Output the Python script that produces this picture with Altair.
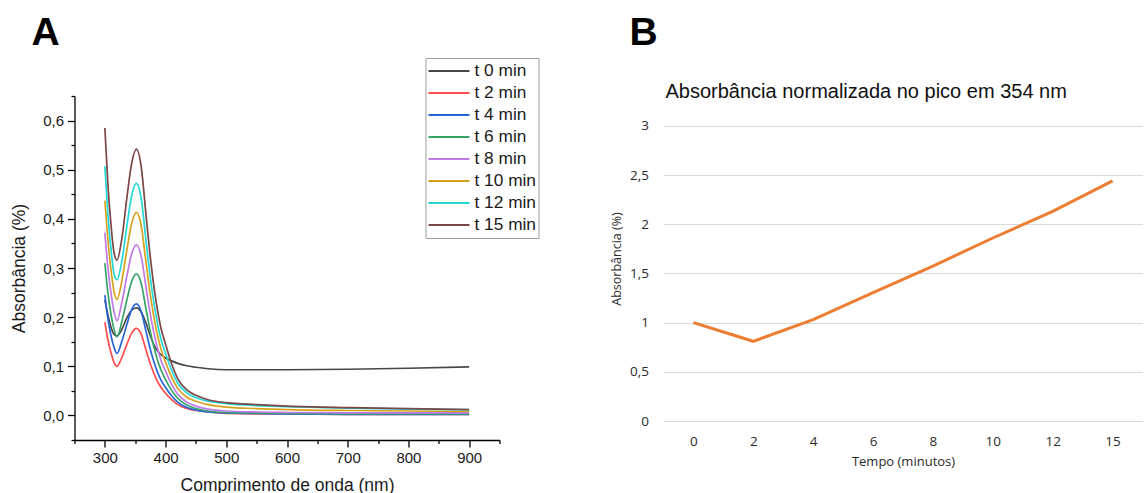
import altair as alt
import pandas as pd

# ---------------- Panel A data (UV-Vis spectra) ----------------
wavelength = [300, 305, 310, 315, 320, 328, 336, 344, 352, 360, 368, 376, 384, 392,
              400, 410, 420, 435, 450, 470, 500, 550, 600, 700, 800, 900]

t0 = [0.235, 0.205, 0.180, 0.165, 0.162, 0.175, 0.198, 0.214, 0.219, 0.210, 0.187, 0.158, 0.136, 0.124,
      0.117, 0.111, 0.106, 0.101, 0.098, 0.095, 0.093, 0.093, 0.093, 0.094, 0.096, 0.099]
t2 = [0.190, 0.154, 0.128, 0.108, 0.100, 0.118, 0.144, 0.167, 0.177, 0.165, 0.132, 0.101, 0.076, 0.058,
      0.045, 0.032, 0.022, 0.014, 0.010, 0.007, 0.004, 0.003, 0.003, 0.002, 0.002, 0.002]
t4 = [0.245, 0.197, 0.163, 0.139, 0.126, 0.151, 0.184, 0.215, 0.227, 0.211, 0.170, 0.129, 0.097, 0.073,
      0.057, 0.040, 0.027, 0.016, 0.011, 0.007, 0.005, 0.004, 0.003, 0.002, 0.002, 0.002]
t6 = [0.310, 0.250, 0.207, 0.176, 0.160, 0.191, 0.234, 0.272, 0.288, 0.268, 0.215, 0.164, 0.124, 0.094,
      0.073, 0.051, 0.035, 0.021, 0.014, 0.009, 0.006, 0.005, 0.004, 0.003, 0.003, 0.003]
t8 = [0.372, 0.301, 0.250, 0.212, 0.193, 0.230, 0.282, 0.328, 0.347, 0.323, 0.259, 0.198, 0.150, 0.114,
      0.090, 0.063, 0.043, 0.027, 0.019, 0.013, 0.009, 0.007, 0.006, 0.005, 0.005, 0.005]
t10 = [0.437, 0.358, 0.297, 0.253, 0.236, 0.274, 0.335, 0.390, 0.413, 0.385, 0.309, 0.236, 0.179, 0.137,
       0.108, 0.078, 0.055, 0.037, 0.029, 0.022, 0.017, 0.014, 0.012, 0.010, 0.009, 0.008]
t12 = [0.507, 0.409, 0.340, 0.289, 0.276, 0.314, 0.383, 0.446, 0.472, 0.440, 0.353, 0.270, 0.205, 0.157,
       0.126, 0.092, 0.066, 0.046, 0.036, 0.029, 0.024, 0.020, 0.018, 0.015, 0.013, 0.012]
t15 = [0.585, 0.470, 0.390, 0.332, 0.316, 0.360, 0.440, 0.512, 0.542, 0.505, 0.405, 0.310, 0.235, 0.180,
       0.145, 0.105, 0.075, 0.052, 0.041, 0.032, 0.026, 0.022, 0.019, 0.016, 0.014, 0.012]

series_names = ["t 0 min", "t 2 min", "t 4 min", "t 6 min", "t 8 min", "t 10 min", "t 12 min", "t 15 min"]
series_colors = ["#474747", "#ff4d4d", "#2566dc", "#36a466", "#c07ae8", "#d6a21e", "#22d8d8", "#7b4646"]
series_values = [t0, t2, t4, t6, t8, t10, t12, t15]

# ---------------- Panel B data (normalized absorbance at 354 nm) ----------------
times = ["0", "2", "4", "6", "8", "10", "12", "15"]
norm_abs = [1.0, 0.81, 1.03, 1.305, 1.575, 1.86, 2.13, 2.44]

panel_labels = ["A", "B"]
title_b = "Absorbância normalizada no pico em 354 nm"

rows = []
for name, vals in zip(series_names, series_values):
    for w, v in zip(wavelength, vals):
        rows.append({"wl": w, "absorb": v, "serie": name})
df_a = pd.DataFrame(rows)
df_b = pd.DataFrame({"t": times, "v": norm_abs})

x_vals_a = list(range(250, 951, 50))
y_vals_a = [round(-0.05 + 0.05 * i, 2) for i in range(15)]

FONT_A = "Liberation Sans"
FONT_B = "Open Sans"

lines_a = alt.Chart(df_a).mark_line(strokeWidth=1.7, interpolate="monotone").encode(
    x=alt.X("wl:Q", scale=alt.Scale(domain=[250, 950], nice=False, zero=False),
            axis=alt.Axis(values=x_vals_a,
                          labelExpr="datum.value % 100 == 0 ? datum.label : ''",
                          tickSize={"condition": {"test": "datum.value % 100 == 0", "value": 7}, "value": 3.5},
                          tickColor="black", tickWidth=1.3, domainColor="black", domainWidth=1.3,
                          labelFont=FONT_A, labelFontSize=15, labelColor="#1a1a1a", labelPadding=3,
                          labelFlush=False, labelOverlap=False, grid=False,
                          title="Comprimento de onda (nm)", titleFont=FONT_A, titleFontSize=17.5,
                          titleFontWeight="normal", titleColor="#1a1a1a", titlePadding=11)),
    y=alt.Y("absorb:Q", scale=alt.Scale(domain=[-0.05, 0.65], nice=False, zero=False),
            axis=alt.Axis(values=y_vals_a,
                          labelExpr="abs(round(datum.value*100)) % 10 == 0 ? replace(format(datum.value, '.1f'), '.', ',') : ''",
                          tickSize={"condition": {"test": "abs(round(datum.value*100)) % 10 == 0", "value": 7}, "value": 3.5},
                          tickColor="black", tickWidth=1.3, domainColor="black", domainWidth=1.3,
                          labelFont=FONT_A, labelFontSize=15, labelColor="#1a1a1a", labelPadding=4,
                          labelFlush=False, labelOverlap=False, grid=False,
                          title="Absorbância (%)", titleFont=FONT_A, titleFontSize=17.5,
                          titleFontWeight="normal", titleColor="#1a1a1a", titlePadding=14)),
    color=alt.Color("serie:N", sort=series_names,
                    scale=alt.Scale(domain=series_names, range=series_colors),
                    legend=alt.Legend(title=None, orient="none", legendX=351, legendY=-38,
                                      symbolType="stroke", symbolSize=1681, symbolStrokeWidth=1.8,
                                      clipHeight=22, rowPadding=0, labelOffset=4,
                                      labelFont=FONT_A, labelFontSize=17.3, labelColor="#1a1a1a",
                                      strokeColor="#a0a0a0", fillColor="white", padding=2)),
    order=alt.Order("serie:N"),
)

letter_a = alt.Chart(pd.DataFrame({"p": [panel_labels[0]]})).mark_text(
    font=FONT_A, fontSize=39, fontWeight="bold", align="left", baseline="alphabetic", color="black"
).encode(text="p:N", x=alt.value(-43), y=alt.value(-51))

chart_a = alt.layer(lines_a, letter_a).properties(width=425, height=344)

line_b = alt.Chart(df_b).mark_line(strokeWidth=3, color="#ED7D31").encode(
    x=alt.X("t:O", sort=times, scale=alt.Scale(type="point", padding=0.5, domain=times),
            axis=alt.Axis(labelAngle=0, ticks=False, domain=False, grid=False,
                          labelFont=FONT_B, labelFontSize=13.5, labelColor="#2b2b2b", labelPadding=13,
                          title="Tempo (minutos)", titleFont=FONT_B, titleFontSize=13,
                          titleFontWeight="normal", titleColor="#2b2b2b", titlePadding=8)),
    y=alt.Y("v:Q", scale=alt.Scale(domain=[0, 3.303], nice=False, zero=True),
            axis=alt.Axis(values=[0, 0.5, 1, 1.5, 2, 2.5, 3], ticks=False, domain=False,
                          grid=True, gridColor="#d9d9d9", gridWidth=1.2,
                          labelExpr="replace(format(datum.value, '~g'), '.', ',')",
                          labelFont=FONT_B, labelFontSize=13.5, labelColor="#2b2b2b", labelPadding=15,
                          title="Absorbância (%)", titleFont=FONT_B, titleFontSize=12.5,
                          titleFontWeight="normal", titleColor="#2b2b2b", titlePadding=6)),
)

texts_b = alt.Chart(pd.DataFrame({"p": [panel_labels[1]]})).mark_text(
    font=FONT_A, fontSize=39, fontWeight="bold", align="left", baseline="alphabetic", color="black"
).encode(text="p:N", x=alt.value(-34), y=alt.value(-51))

title_text_b = alt.Chart(pd.DataFrame({"p": [title_b]})).mark_text(
    font=FONT_A, fontSize=20, align="left", baseline="middle", color="#111111"
).encode(text="p:N", x=alt.value(2), y=alt.value(-4))

chart_b = alt.layer(line_b, texts_b, title_text_b).properties(width=479, height=325)

chart = alt.hconcat(chart_a, chart_b, spacing=164, bounds="flush").properties(
    padding={"left": 10.5, "top": 14, "right": 0, "bottom": 0},
    background="white",
).configure_view(strokeWidth=0)

chart.save("out.html", embed_options={"renderer": "svg", "actions": False})
